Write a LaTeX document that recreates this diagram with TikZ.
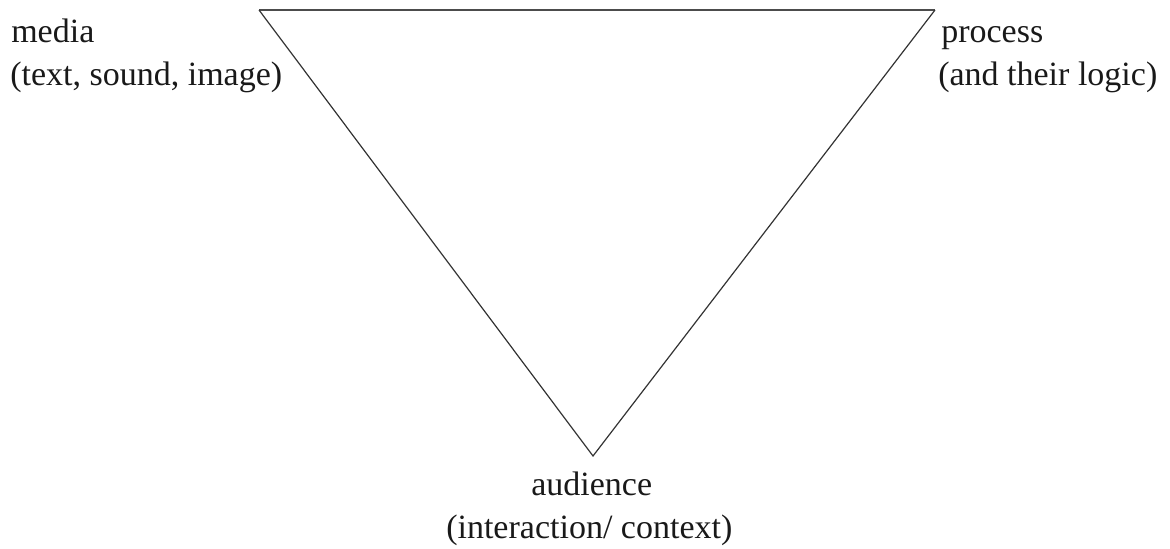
\documentclass[tikz,border=0pt]{standalone}
\usepackage{fontspec}
\setmainfont{Liberation Serif}
\begin{document}
\begin{tikzpicture}[x=0.75pt,y=-0.75pt,
  lbl/.style={anchor=base west,inner sep=0pt,font=\fontsize{25.5pt}{33pt}\selectfont,text=black!90},
  topedge/.style={draw=black!70,line width=1.6pt},
  sideedge/.style={draw=black!80,line width=0.9pt}]
\useasboundingbox (0,0) rectangle (1170,549);
\coordinate (tl) at (259,10);
\coordinate (tr) at (935,10);
\coordinate (bt) at (593,456);
\draw[topedge] (tl) -- (tr);
\draw[sideedge,line join=miter] (tl) -- (bt) -- (tr);
\node[lbl] (media) at (11,43) {media};
\node[lbl] (mediasub) at (10,86) {(text, sound, image)};
\node[lbl] (process) at (941,43) {process};
\node[lbl] (processsub) at (938,86) {(and their logic)};
\node[lbl] (audience) at (531,495) {audience};
\node[lbl] (audiencesub) at (446,538) {(interaction/ context)};
\end{tikzpicture}
\end{document}
